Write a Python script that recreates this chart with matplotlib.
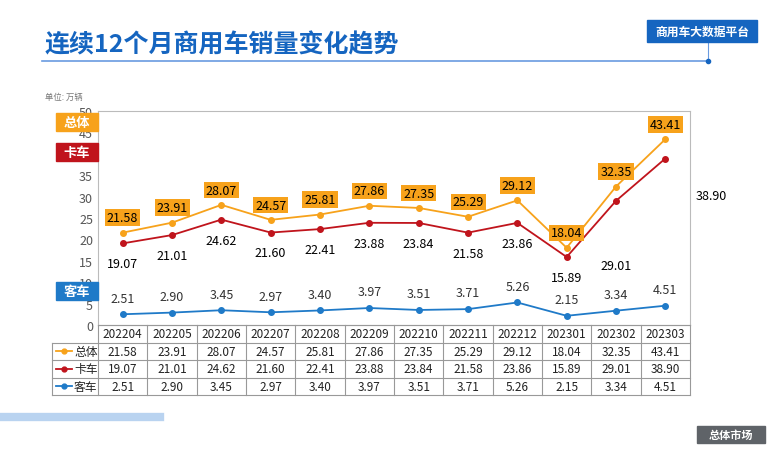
import matplotlib.pyplot as plt
from matplotlib.patches import Rectangle
import matplotlib.lines as mlines

plt.rcParams["font.family"] = ["Noto Sans CJK SC", "DejaVu Sans"]

months = ["202204", "202205", "202206", "202207", "202208", "202209",
          "202210", "202211", "202212", "202301", "202302", "202303"]
total = [21.58, 23.91, 28.07, 24.57, 25.81, 27.86, 27.35, 25.29, 29.12, 18.04, 32.35, 43.41]
truck = [19.07, 21.01, 24.62, 21.60, 22.41, 23.88, 23.84, 21.58, 23.86, 15.89, 29.01, 38.90]
bus = [2.51, 2.90, 3.45, 2.97, 3.40, 3.97, 3.51, 3.71, 5.26, 2.15, 3.34, 4.51]

C_TOT = "#f7a21b"
C_TRK = "#c0141c"
C_BUS = "#1f7ac8"
BLUE = "#1565c0"

W, H = 771, 460
fig = plt.figure(figsize=(7.71, 4.6), dpi=100)

def fx(px):
    return px / W

def fy(py):
    return 1 - py / H

# header
fig.text(fx(45), fy(45), "连续12个月商用车销量变化趋势", fontsize=18, fontweight="bold",
         color=BLUE, va="center")
fig.add_artist(mlines.Line2D([fx(42), fx(708)], [fy(62), fy(62)], color="#6a9be0", lw=1.2))
fig.add_artist(mlines.Line2D([fx(708), fx(708)], [fy(43), fy(62)], color="#6a9be0", lw=0.8))
fig.add_artist(mlines.Line2D([fx(708)], [fy(62)], marker="o", ms=3, color=BLUE))
fig.add_artist(Rectangle((fx(647), fy(43)), fx(110), 22 / H,
                         transform=fig.transFigure, color=BLUE, zorder=3))
fig.text(fx(702), fy(32), "商用车大数据平台", fontsize=8.5, fontweight="bold", color="white",
         ha="center", va="center", zorder=4)
fig.text(fx(45), fy(97), "单位: 万辆", fontsize=6, color="#777777", va="center")

L, R, T, B = 98, 690, 112, 326
ax = fig.add_axes([fx(L), fy(B), fx(R - L), fy(T) - fy(B)])
x = list(range(len(months)))
ax.plot(x, total, color=C_TOT, marker="o", ms=4, lw=1.3)
ax.plot(x, truck, color=C_TRK, marker="o", ms=4, lw=1.3)
ax.plot(x, bus, color=C_BUS, marker="o", ms=4, lw=1.3)
ax.set_xlim(-0.5, 11.5)
ax.set_ylim(0, 50)
ax.set_yticks(range(0, 51, 5))
ax.set_xticks([])
ax.tick_params(axis="y", length=0, labelsize=9, colors="#555555")
for s in ax.spines.values():
    s.set_color("#bbbbbb")

for i, v in enumerate(total):
    ax.annotate(f"{v:.2f}", (i, v), xytext=(0, 6), textcoords="offset points", ha="center",
                va="bottom", fontsize=9, bbox=dict(boxstyle="square,pad=0.15", fc=C_TOT, ec="none"))
truck_off = [-10] * 12
truck_off[10] = -42
for i, v in enumerate(truck):
    if i == 11:
        ax.annotate(f"{v:.2f}", (i, v), xytext=(22, -22), textcoords="offset points",
                    ha="left", va="top", fontsize=9)
        continue
    ax.annotate(f"{v:.2f}", (i, v), xytext=(0, truck_off[i]), textcoords="offset points",
                ha="center", va="top", fontsize=9)
for i, v in enumerate(bus):
    ax.annotate(f"{v:.2f}", (i, v), xytext=(0, 7), textcoords="offset points", ha="center",
                va="bottom", fontsize=9, color="#333333")

# side legend boxes
for lab, col, py in [("总体", C_TOT, 123), ("卡车", C_TRK, 153), ("客车", C_BUS, 292)]:
    fig.add_artist(Rectangle((fx(56), fy(py + 9)), fx(42), 18 / H, transform=fig.transFigure,
                             color=col, zorder=3))
    fig.text(fx(77), fy(py), lab, fontsize=9.5, fontweight="bold", color="white",
             ha="center", va="center", zorder=4)

# data table
rows = [("总体", C_TOT, total), ("卡车", C_TRK, truck), ("客车", C_BUS, bus)]
rh = 17.5
cw = (R - L) / 12
lc = "#999999"
top = B
bot = B + rh * 4
for k in range(13):
    xx = L + k * cw
    fig.add_artist(mlines.Line2D([fx(xx), fx(xx)], [fy(top), fy(bot)], color=lc, lw=0.8))
fig.add_artist(mlines.Line2D([fx(52), fx(52)], [fy(top + rh), fy(bot)], color=lc, lw=0.8))
for r in range(5):
    yy = top + r * rh
    x0 = L if r == 0 else 52
    fig.add_artist(mlines.Line2D([fx(x0), fx(R)], [fy(yy), fy(yy)], color=lc, lw=0.8))
for k, m in enumerate(months):
    fig.text(fx(L + (k + 0.5) * cw), fy(top + rh / 2), m, fontsize=8.5, ha="center",
             va="center", color="#222222")
for r, (lab, col, vals) in enumerate(rows):
    yc = top + (r + 1.5) * rh
    fig.add_artist(mlines.Line2D([fx(56), fx(72)], [fy(yc), fy(yc)], color=col, lw=1.3, zorder=3))
    fig.add_artist(mlines.Line2D([fx(64)], [fy(yc)], color=col, marker="o", ms=3.5))
    fig.text(fx(74), fy(yc), lab, fontsize=8.5, va="center", color="#222222")
    for k, v in enumerate(vals):
        fig.text(fx(L + (k + 0.5) * cw), fy(yc), f"{v:.2f}", fontsize=8.5, ha="center",
                 va="center", color="#222222")

# footer
fig.add_artist(mlines.Line2D([fx(0), fx(160)], [fy(418), fy(418)], color="#b9d3f0", lw=6))
fig.add_artist(Rectangle((fx(697), fy(444)), fx(68), 17 / H, transform=fig.transFigure,
                         color="#5f6368", zorder=3))
fig.text(fx(731), fy(435.5), "总体市场", fontsize=8, fontweight="bold", color="white",
         ha="center", va="center", zorder=4)

fig.savefig("out.png", dpi=100)
